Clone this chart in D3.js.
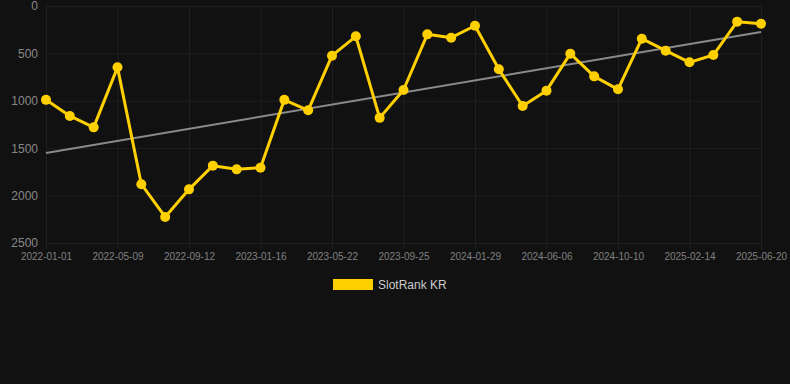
<!DOCTYPE html>
<html>
<head>
<meta charset="utf-8">
<script src="https://cdn.jsdelivr.net/npm/d3@7"></script>
<style>
  html, body { margin: 0; padding: 0; background: #111111; }
  svg { display: block; font-family: "Liberation Sans", Arial, Helvetica, sans-serif; }
</style>
</head>
<body>
<div class="main"></div>
<script>
// point dates (every third one is labelled on the axis)
var dates = ["2022-01-01","2022-02-12","2022-03-26","2022-05-09","2022-06-20","2022-08-01",
  "2022-09-12","2022-10-24","2022-12-05","2023-01-16","2023-02-27","2023-04-10",
  "2023-05-22","2023-07-03","2023-08-14","2023-09-25","2023-11-06","2023-12-18",
  "2024-01-29","2024-03-11","2024-04-24","2024-06-06","2024-07-18","2024-08-29",
  "2024-10-10","2024-11-21","2025-01-02","2025-02-14","2025-03-28","2025-05-09",
  "2025-06-20"];
var ranks = [990, 1160, 1280, 647, 1880, 2225, 1934, 1684, 1723, 1705, 990,
  1100, 524, 320, 1180, 886, 299, 334, 208, 668, 1055, 893, 503, 742, 879,
  345, 471, 594, 517, 165, 187];
var xTickLabels = ["2022-01-01","2022-05-09","2022-09-12","2023-01-16","2023-05-22",
  "2023-09-25","2024-01-29","2024-06-06","2024-10-10","2025-02-14","2025-06-20"];
var yTicks = [0, 500, 1000, 1500, 2000, 2500];
var trendEnds = [1551, 274];
var seriesName = "SlotRank KR";

var width = 790, height = 384;
var margin = {left: 46, right: 29, top: 6, bottom: 141};

var svg = d3.select("div.main").append("svg")
  .attr("width", width)
  .attr("height", height);

var x = d3.scalePoint()
  .domain(dates)
  .range([margin.left, width - margin.right]);

var y = d3.scaleLinear()
  .domain([0, 2500])
  .range([margin.top, height - margin.bottom]);

// grid
svg.append("g")
  .selectAll("line.h")
  .data(yTicks)
  .enter().append("line")
  .attr("x1", margin.left)
  .attr("x2", width - margin.right)
  .attr("y1", function(d) { return y(d) + 0.5; })
  .attr("y2", function(d) { return y(d) + 0.5; })
  .style("stroke", "#1f1f1f")
  .style("stroke-width", 1);

svg.append("g")
  .selectAll("line.v")
  .data(xTickLabels)
  .enter().append("line")
  .attr("x1", function(d) { return x(d) + 0.5; })
  .attr("x2", function(d) { return x(d) + 0.5; })
  .attr("y1", margin.top)
  .attr("y2", y(2500) + 6)
  .style("stroke", "#1f1f1f")
  .style("stroke-width", 1);

// y axis labels
var yAxis = d3.axisLeft(y).tickValues(yTicks).tickFormat(d3.format("d"))
  .tickSize(0).tickPadding(8);
var gy = svg.append("g")
  .attr("transform", "translate(" + margin.left + ",0)")
  .call(yAxis);
gy.select(".domain").remove();
gy.selectAll("text")
  .style("fill", "#888888")
  .style("font-size", "12px");

// x axis labels
var xAxis = d3.axisBottom(x).tickValues(xTickLabels).tickSize(0).tickPadding(10);
var gx = svg.append("g")
  .attr("transform", "translate(0," + y(2500) + ")")
  .call(xAxis);
gx.select(".domain").remove();
gx.selectAll("text")
  .style("fill", "#808080")
  .style("font-size", "10px");

// trend line
svg.append("line")
  .attr("x1", x(dates[0]))
  .attr("x2", x(dates[dates.length - 1]))
  .attr("y1", y(trendEnds[0]))
  .attr("y2", y(trendEnds[1]))
  .style("stroke", "#8a8a8a")
  .style("stroke-width", 2);

// series
var pts = dates.map(function(d, i) { return {date: d, value: ranks[i]}; });

var line = d3.line()
  .x(function(d) { return x(d.date); })
  .y(function(d) { return y(d.value); });

svg.append("path")
  .datum(pts)
  .attr("d", line)
  .style("fill", "none")
  .style("stroke", "#ffd000")
  .style("stroke-width", 3)
  .style("stroke-linejoin", "round");

svg.append("g")
  .selectAll("circle")
  .data(pts)
  .enter().append("circle")
  .attr("cx", function(d) { return x(d.date); })
  .attr("cy", function(d) { return y(d.value); })
  .attr("r", 5)
  .style("fill", "#ffd000");

// legend
var legend = svg.append("g").attr("transform", "translate(333,279)");
legend.append("rect")
  .attr("width", 40)
  .attr("height", 11)
  .style("fill", "#ffd000");
legend.append("text")
  .attr("x", 45)
  .attr("y", 6)
  .attr("dy", ".35em")
  .style("fill", "#cccccc")
  .style("font-size", "12px")
  .text(seriesName);
</script>
</body>
</html>
